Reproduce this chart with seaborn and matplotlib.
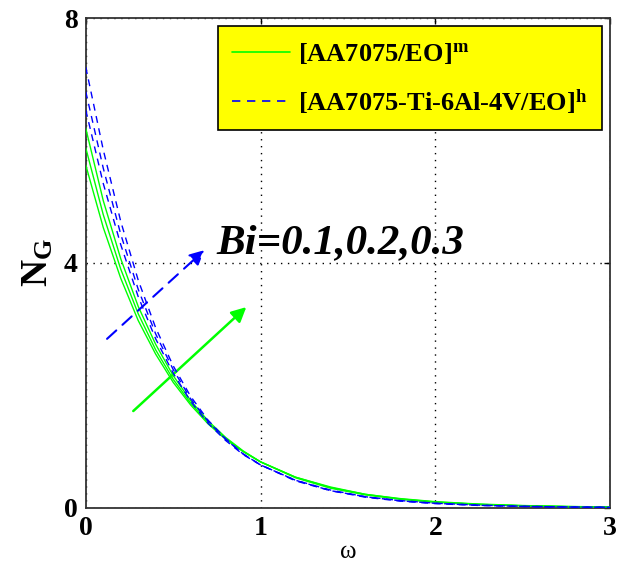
import numpy as np
import pandas as pd
import matplotlib
matplotlib.use("Agg")
import matplotlib.pyplot as plt
import seaborn as sns
from matplotlib.lines import Line2D

omega = [0, 0.1, 0.2, 0.3, 0.4, 0.5, 0.6, 0.7, 0.8, 0.9, 1.0,
         1.2, 1.4, 1.6, 1.8, 2.0, 2.25, 2.5, 2.75, 3.0]

# [AA7075/EO]^m, Bi = 0.1, 0.2, 0.3
green_bi01 = [5.60, 4.58, 3.75, 3.06, 2.51, 2.05, 1.68, 1.37, 1.12, 0.92, 0.75,
              0.50, 0.34, 0.22, 0.15, 0.100, 0.061, 0.037, 0.022, 0.013]
green_bi02 = [5.88, 4.79, 3.90, 3.17, 2.58, 2.10, 1.71, 1.39, 1.13, 0.92, 0.75,
              0.50, 0.33, 0.22, 0.144, 0.095, 0.057, 0.034, 0.020, 0.012]
green_bi03 = [6.20, 5.02, 4.07, 3.29, 2.67, 2.16, 1.75, 1.42, 1.15, 0.93, 0.75,
              0.49, 0.32, 0.21, 0.139, 0.091, 0.054, 0.032, 0.019, 0.011]

# [AA7075-Ti-6Al-4V/EO]^h, Bi = 0.1, 0.2, 0.3
blue_bi01 = [6.50, 5.30, 4.30, 3.45, 2.76, 2.20, 1.74, 1.38, 1.10, 0.87, 0.70,
             0.45, 0.29, 0.18, 0.118, 0.075, 0.043, 0.025, 0.014, 0.008]
blue_bi02 = [6.80, 5.55, 4.47, 3.57, 2.84, 2.26, 1.78, 1.41, 1.12, 0.88, 0.70,
             0.45, 0.28, 0.18, 0.114, 0.073, 0.041, 0.023, 0.013, 0.0075]
blue_bi03 = [7.20, 5.85, 4.68, 3.72, 2.94, 2.32, 1.82, 1.43, 1.13, 0.88, 0.70,
             0.44, 0.28, 0.173, 0.109, 0.068, 0.038, 0.021, 0.012, 0.007]

x_ticks = [0, 1, 2, 3]
y_ticks = [0, 4, 8]
legend_labels = [r'$\mathbf{[AA7075/EO]^{m}}$',
                 r'$\mathbf{[AA7075\text{-}Ti\text{-}6Al\text{-}4V/EO]^{h}}$']
annotation = 'Bi=0.1,0.2,0.3'

sns.set_theme(style="white")
plt.rcParams['font.family'] = ['Liberation Serif', 'DejaVu Serif']
plt.rcParams['mathtext.fontset'] = 'custom'
plt.rcParams['mathtext.rm'] = 'Liberation Serif'
plt.rcParams['mathtext.bf'] = 'Liberation Serif:bold'
plt.rcParams['mathtext.it'] = 'Liberation Serif:italic'
plt.rcParams['text.color'] = 'black'
plt.rcParams['axes.labelcolor'] = 'black'

fig = plt.figure(figsize=(6.17, 5.68), dpi=100)
ax = fig.add_axes([0.139, 0.106, 0.850, 0.862])

GREEN = (0, 1, 0)
BLUE = (0, 0, 1)

for ys in [green_bi01, green_bi02, green_bi03]:
    sns.lineplot(x=omega, y=ys, ax=ax, color=GREEN, lw=1.0, zorder=3)
for ys in [blue_bi01, blue_bi02, blue_bi03]:
    sns.lineplot(x=omega, y=ys, ax=ax, color=BLUE, lw=1.0, zorder=4,
                 linestyle=(0, (5, 4)))

ax.set_xlim(0, 3)
ax.set_ylim(0, 8)
ax.set_xticks(x_ticks)
ax.set_yticks(y_ticks)
ax.set_xticklabels([str(t) for t in x_ticks], fontsize=20, fontweight='bold',
                   color='black')
ax.set_yticklabels([str(t) for t in y_ticks], fontsize=20, fontweight='bold',
                   color='black')
ax.tick_params(direction='in', top=True, right=True, length=4, width=1,
               colors='black', pad=6)
ax.grid(True, color='black', linestyle=(0, (1, 4)), linewidth=1.0)
for s in ax.spines.values():
    s.set_color('#333333')
    s.set_linewidth(1.3)

ax.set_xlabel('ω', fontsize=18, labelpad=0, color='black')
ax.set_ylabel(r'$\mathbf{N_G}$', fontsize=27, labelpad=6, color='black')

# arrows
ax.annotate('', xy=(0.93, 3.31), xytext=(0.26, 1.55),
            arrowprops=dict(arrowstyle='-|>', color=GREEN, lw=1.8,
                            mutation_scale=22))
ax.annotate('', xy=(0.69, 4.24), xytext=(0.11, 2.73),
            arrowprops=dict(arrowstyle='-|>', color=BLUE, lw=1.5,
                            linestyle=(0, (6, 4)), mutation_scale=22))
ax.text(0.75, 4.32, annotation, fontsize=31, fontweight='bold',
        fontstyle='italic', va='center', ha='left', zorder=6, color='black')

handles = [Line2D([0], [0], color=GREEN, lw=1.2),
           Line2D([0], [0], color=BLUE, lw=1.2, linestyle=(0, (5, 4)))]
leg = ax.legend(handles, legend_labels, loc='upper right',
                bbox_to_anchor=(0.997, 0.997), fontsize=19,
                facecolor=(1, 1, 0), edgecolor='black', framealpha=1,
                fancybox=False, handlelength=2.2, borderpad=0.55,
                labelspacing=0.8, handletextpad=0.3, borderaxespad=0.25)
leg.get_frame().set_linewidth(1.2)
leg.set_zorder(10)
for t in leg.get_texts():
    t.set_color('black')

fig.savefig('out.png', dpi=100, facecolor='white')
